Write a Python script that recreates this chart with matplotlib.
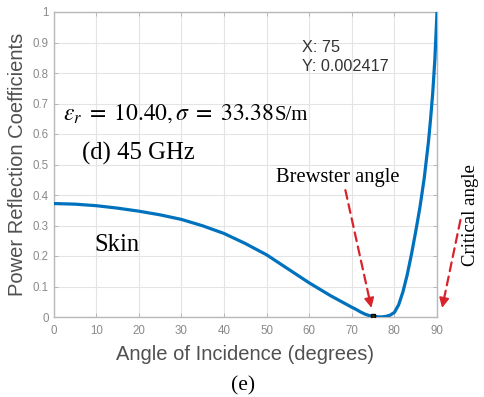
import matplotlib
matplotlib.use("Agg")
import matplotlib.pyplot as plt

# angle of incidence (deg) and power reflection coefficient, skin at 45 GHz
angles = [0, 5, 10, 15, 20, 25, 30, 35, 40, 45, 50, 55, 60, 65, 70, 71, 72, 73, 74, 75,
          76, 77, 78, 79, 80, 81, 82, 83, 84, 85, 86, 87, 88, 88.5, 89, 89.5, 90]
refl = [0.372, 0.370, 0.365, 0.357, 0.347, 0.335, 0.320, 0.299, 0.274, 0.241, 0.204,
        0.158, 0.112, 0.070, 0.032, 0.025, 0.017, 0.010, 0.005, 0.0024,
        0.0008, 0.0002, 0.002, 0.006, 0.015, 0.040, 0.082, 0.138, 0.205, 0.280,
        0.360, 0.455, 0.575, 0.650, 0.735, 0.845, 1.0]

tip_x = 75
tip_y = 0.002417

xticks = list(range(0, 91, 10))
yticks = [i / 10 for i in range(11)]
ytick_labels = ["0"] + ["%.1f" % v for v in yticks[1:-1]] + ["1"]

plt.rcParams["mathtext.fontset"] = "stix"

W, H = 484, 397
fig = plt.figure(figsize=(W / 100, H / 100), dpi=100)
ax = fig.add_axes([53.5 / W, 1 - 317 / H, 383.5 / W, 305 / H])

ax.plot(angles, refl, color="#0072BD", linewidth=2.3, zorder=3)
ax.plot([tip_x], [tip_y], marker="s", markersize=3, color="black",
        markerfacecolor="#333300", zorder=4)

ax.set_xlim(0, 90)
ax.set_ylim(0, 1)
ax.set_xticks(xticks)
ax.set_yticks(yticks)
ax.set_yticklabels(ytick_labels)
ax.grid(True, color="#e4e4e4", linewidth=0.8)
ax.set_axisbelow(True)
ax.tick_params(direction="in", length=3, width=0.6, colors="#b0b0b0",
               labelcolor="#8a8a8a", labelsize=8.3, top=True, right=True)
ax.tick_params(axis="x", pad=6)
for lab in ax.get_xticklabels() + ax.get_yticklabels():
    lab.set_family("Liberation Sans")
for s in ax.spines.values():
    s.set_color("#b8b8b8")
    s.set_linewidth(1.0)

ax.set_xlabel("Angle of Incidence (degrees)", fontsize=14.5, color="#505050",
              family="Liberation Sans")
ax.set_ylabel("Power Reflection Coefficients", fontsize=14.5, color="#505050",
              family="Liberation Sans")
ax.xaxis.set_label_coords(0.5, (317 - 355) / 305)
ax.xaxis.label.set_va("center")
ax.yaxis.set_label_coords((18 - 53.5) / 383.5, 0.5)
ax.yaxis.label.set_va("center")

serif = "Liberation Serif"
eq = ax.text(2.2, 0.6475, r"$\varepsilon_r\;=\;10.40,\sigma\;=\;33.38$", fontsize=17,
             va="baseline", ha="left")
ax.text(6.6, 0.536, "(d) 45 GHz", fontsize=17.8, family=serif, va="center", ha="left")
ax.text(9.7, 0.236, "Skin", fontsize=17.8, family=serif, va="center", ha="left")
ax.text(66.7, 0.458, "Brewster angle", fontsize=14.8, family=serif, va="center",
        ha="center")
ax.text(97.8, 0.334, "Critical angle", fontsize=13.5, family=serif, va="center",
        ha="center", rotation=90, clip_on=False)

# unit right after the equation
fig.canvas.draw()
bb = eq.get_window_extent()
x_unit = ax.transData.inverted().transform((bb.x1 + 1, 0))[0]
ax.text(x_unit, 0.6475, "S/m", fontsize=15, family=serif, va="baseline", ha="left")

# datatip
ax.text(58.4, 0.882, "X: 75", fontsize=11.7, family="Liberation Sans",
        color="#333333", va="center", ha="left")
ax.text(58.4, 0.821, "Y: 0.002417", fontsize=11.7, family="Liberation Sans",
        color="#333333", va="center", ha="left")

# dashed red arrows
red = "#d8232a"
for start, tip in [((68.5, 0.416), (74.6, 0.03)), ((95.5, 0.318), (91.2, 0.03))]:
    near = (tip[0] + (start[0] - tip[0]) * 0.09, tip[1] + (start[1] - tip[1]) * 0.09)
    ax.annotate("", xy=near, xytext=start, annotation_clip=False,
                arrowprops=dict(arrowstyle="-", color=red, lw=1.6,
                                linestyle=(0, (4, 2.5)), shrinkA=0, shrinkB=0))
    ax.annotate("", xy=tip, xytext=near, annotation_clip=False,
                arrowprops=dict(arrowstyle="-|>,head_length=0.6,head_width=0.3",
                                color=red, lw=1.2, shrinkA=0, shrinkB=0))

fig.text(243 / W, 1 - 386 / H, "(e)", fontsize=15.5, family=serif,
         ha="center", va="center")

fig.savefig("out.png", dpi=100)
